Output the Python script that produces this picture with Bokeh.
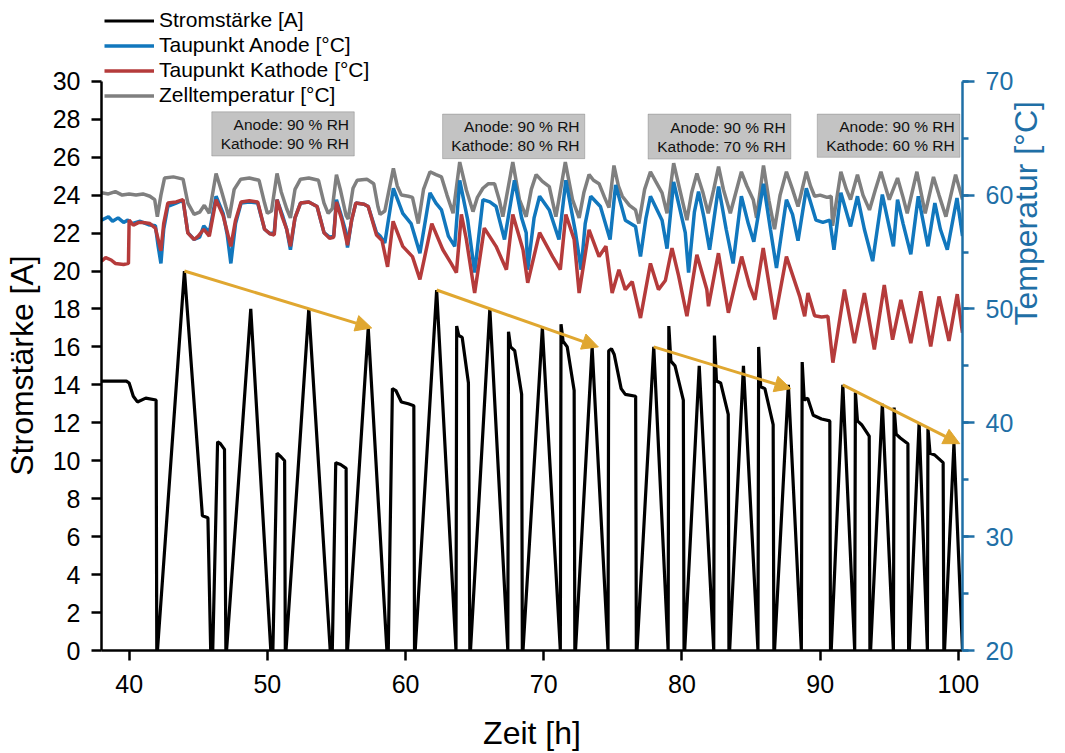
import math
from bokeh.plotting import figure
from bokeh.models import (Range1d, LinearAxis, SingleIntervalTicker, Legend, LegendItem,
                          BoxAnnotation, Label, Arrow, NormalHead)
from bokeh.embed import file_html
from bokeh.resources import INLINE

# ---------------- data ----------------
current_t = [38.0, 39.8, 40.0, 40.3, 40.6, 41.2, 41.95, 42.0,
             42.05, 44.0, 45.3, 45.7, 45.9,
             46.05, 46.4, 46.6, 46.9, 47.0,
             47.05, 48.8, 50.25,
             50.4, 50.7, 51.0, 51.25, 51.3,
             51.35, 53.0, 54.55,
             54.7, 54.95, 55.3, 55.7, 55.75,
             55.8, 57.3, 58.65,
             58.75, 59.05, 59.3, 59.7, 60.2, 60.6, 60.65,
             60.7, 62.25, 63.65,
             63.7, 63.85, 64.1, 64.55, 64.65,
             64.7, 66.1, 67.4,
             67.45, 67.6, 67.9, 68.4, 68.45,
             68.5, 69.9, 71.2,
             71.25, 71.4, 71.7, 72.2, 72.25,
             72.3, 73.5, 74.65,
             74.7, 74.9, 75.1, 75.6, 75.9, 76.65, 76.7,
             76.75, 77.96, 79.0,
             79.05, 79.2, 79.5, 80.1, 80.15,
             80.2, 81.25, 82.3,
             82.35, 82.5, 82.8, 83.35, 83.4,
             83.45, 84.45, 85.5,
             85.55, 85.7, 86.0, 86.6, 86.65,
             86.7, 87.7, 88.64,
             88.7, 88.85, 89.1, 89.5, 90.1, 90.7, 90.75,
             90.8, 91.64, 92.5,
             92.55, 92.7, 93.0, 93.55, 93.6,
             93.65, 94.5, 95.3,
             95.35, 95.5, 95.8, 96.35, 96.4,
             96.45, 97.16, 97.76,
             97.8, 97.95, 98.3, 98.9, 98.95,
             99.0, 99.68, 100.3]
current_a = [14.2, 14.2, 14.1, 13.4, 13.1, 13.3, 13.2, 0,
             0, 20.0, 7.1, 7.0, 0,
             0, 11.0, 10.9, 10.6, 0,
             0, 18.0, 0,
             0, 10.4, 10.2, 10.0, 0,
             0, 18.0, 0,
             0, 9.9, 9.8, 9.6, 0,
             0, 17.0, 0,
             0, 13.8, 13.7, 13.1, 13.0, 12.9, 0,
             0, 19.0, 0,
             17.1, 16.6, 16.5, 14.1, 0,
             0, 18.0, 0,
             16.8, 16.0, 15.8, 13.5, 0,
             0, 17.0, 0,
             17.2, 16.3, 16.0, 13.7, 0,
             0, 16.0, 0,
             15.8, 15.9, 15.6, 13.8, 13.5, 13.4, 0,
             0, 16.0, 0,
             17.1, 15.25, 15.0, 13.2, 0,
             0, 15.0, 0,
             16.6, 14.2, 14.1, 12.45, 0,
             0, 15.0, 0,
             16.0, 13.9, 13.8, 11.9, 0,
             0, 14.0, 0,
             15.2, 13.2, 13.3, 12.4, 12.2, 12.1, 0,
             0, 14.0, 0,
             13.6, 12.1, 11.9, 11.3, 0,
             0, 13.0, 0,
             12.8, 11.4, 11.2, 10.9, 0,
             0, 12.0, 0,
             11.7, 10.4, 10.3, 9.9, 0,
             0, 10.9, 0]

cell_t = [38.0, 38.5, 39.0, 39.5, 40.0, 40.5, 41.0, 41.5, 41.85, 42.04, 42.3, 42.56, 43.2, 43.9,
          44.25, 44.7, 45.1, 45.44, 45.8, 46.29, 46.65, 47.0, 47.24, 47.6, 48.08, 48.7, 49.4,
          49.8, 50.0, 50.3, 50.7, 51.0, 51.4, 51.67, 52.0, 52.4, 53.0, 53.7, 54.1, 54.4, 54.7,
          55.0, 55.3, 55.7, 55.85, 56.2, 56.5, 57.2, 57.7, 58.0, 58.16, 58.5, 59.12, 59.4, 59.7,
          60.2, 60.5, 60.92, 61.3, 61.77, 62.2, 62.6, 63.0, 63.44, 63.92, 64.4, 64.88, 65.2,
          65.6, 66.0, 66.44, 66.8, 67.04, 67.76, 68.24, 68.73, 69.1, 69.45, 69.9, 70.4, 70.88,
          71.56, 72.08, 72.56, 72.9, 73.28, 73.6, 74.0, 74.4, 74.72, 75.08, 75.4, 75.68, 76.2,
          76.64, 76.88, 77.3, 77.72, 78.1, 78.56, 78.92, 79.4, 79.9, 80.36, 80.7, 81.08, 81.5,
          81.9, 82.3, 82.65, 83.0, 83.5, 84.3, 84.7, 85.16, 85.4, 85.9, 86.3, 86.7, 87.1, 87.56,
          88.0, 88.4, 89.0, 89.3, 89.6, 90.0, 90.5, 90.8, 90.9, 91.5, 91.9, 92.2, 92.7, 93.1,
          93.57, 94.0, 94.4, 95.0, 95.6, 96.0, 96.3, 97.0, 97.6, 98.2, 98.6, 99.1, 99.8, 100.3]
cell_temp = [60.2, 60.1, 60.3, 60.0, 60.1, 60.0, 60.1, 59.9, 59.6, 58.1, 60.0, 61.5, 61.6, 61.4,
             59.3, 58.3, 58.5, 59.1, 58.4, 61.9, 60.5, 59.0, 58.0, 60.5, 61.4, 61.5, 61.3,
             59.3, 58.4, 58.6, 61.9, 60.3, 58.8, 58.0, 60.5, 61.4, 61.5, 61.3, 59.3, 58.4, 58.8,
             61.8, 60.4, 58.2, 57.9, 60.6, 61.3, 61.4, 61.0, 59.0, 58.3, 58.6, 62.35, 60.8, 60.0,
             59.9, 59.8, 57.5, 60.5, 62.05, 61.8, 61.6, 60.0, 58.4, 62.9, 60.45, 58.55, 59.8,
             60.6, 61.0, 61.0, 59.5, 58.1, 62.9, 59.6, 58.1, 60.5, 61.8, 61.2, 60.75, 58.1,
             62.9, 59.6, 58.0, 60.2, 61.8, 61.3, 61.0, 59.8, 58.9, 62.6, 60.8, 59.9, 59.1,
             58.7, 57.5, 60.5, 62.05, 61.2, 60.2, 58.4, 62.8, 60.2, 57.8, 60.2, 61.9, 60.3,
             58.4, 60.5, 62.5, 60.5, 58.4, 62.05, 60.8, 59.6, 58.0, 62.6, 59.5, 57.0, 60.0, 62.05,
             60.5, 59.0, 62.05, 60.8, 59.9, 60.0, 59.8, 59.9, 57.3, 62.05, 60.5, 59.6, 61.8, 60.0,
             58.7, 60.5, 62.05, 59.6, 61.5, 59.8, 58.4, 62.05, 58.4, 61.6, 60.0, 58.1, 61.8, 59.6]

anode_t = [38.0, 38.5, 38.8, 39.2, 39.6, 39.9, 40.2, 40.8, 41.4, 41.9, 42.1, 42.3, 42.5, 42.8,
           43.4, 43.9, 44.25, 44.7, 45.1, 45.4, 45.8, 46.29, 46.8, 47.1, 47.36, 47.7, 48.1, 48.7,
           49.3, 49.8, 50.2, 50.5, 50.7, 51.1, 51.4, 51.67, 52.0, 52.4, 53.0, 53.6, 54.1, 54.5,
           54.8, 55.0, 55.4, 55.7, 55.8, 56.1, 56.4, 57.0, 57.3, 57.9, 58.16, 58.5, 59.12, 59.8,
           60.4, 61.04, 61.77, 62.2, 62.6, 63.1, 63.56, 63.92, 64.5, 65.0, 65.6, 66.1, 66.55,
           67.16, 67.88, 68.4, 68.73, 68.84, 69.3, 69.7, 70.4, 71.1, 71.6, 72.3, 72.7, 73.0,
           73.4, 74.1, 74.8, 75.2, 75.9, 76.64, 77.0, 77.4, 77.72, 78.56, 78.92, 79.4, 79.9,
           80.24, 80.48, 80.9, 81.2, 81.6, 82.0, 82.65, 83.2, 83.7, 84.3, 84.8, 85.2, 85.9,
           86.4, 86.84, 87.56, 88.0, 88.4, 89.0, 89.7, 90.2, 90.7, 91.0, 91.5, 92.2, 92.7, 93.2,
           93.8, 94.5, 95.3, 95.6, 96.0, 96.56, 97.1, 97.8, 98.3, 98.7, 99.2, 99.9, 100.3]
anode_temp = [57.8, 58.1, 57.7, 58.0, 57.6, 57.8, 57.5, 57.7, 57.4, 57.3, 55.5, 54.0, 57.0, 59.0,
              59.3, 59.55, 56.7, 56.1, 56.3, 57.3, 56.7, 59.9, 58.4, 56.5, 54.0, 57.5, 59.3, 59.4,
              59.3, 57.0, 56.6, 56.7, 59.6, 58.2, 57.0, 55.2, 58.0, 59.3, 59.4, 59.0, 56.7, 56.3,
              56.4, 59.6, 58.0, 56.7, 55.4, 57.8, 59.3, 59.2, 59.0, 56.7, 56.4, 55.8, 60.6, 58.4,
              57.5, 54.9, 60.2, 59.3, 58.7, 56.4, 55.5, 61.3, 57.8, 53.2, 59.6, 59.4, 59.0,
              56.1, 61.3, 58.0, 56.7, 53.45, 58.0, 59.9, 58.7, 56.1, 61.3, 56.7, 53.45, 57.5,
              59.9, 59.0, 56.1, 60.9, 57.8, 57.25, 54.6, 58.0, 59.9, 57.8, 55.3, 61.15, 58.5,
              56.7, 53.2, 58.5, 60.3, 58.0, 55.2, 60.75, 57.0, 54.0, 59.9, 57.5, 55.9, 61.0,
              57.0, 53.6, 59.6, 58.3, 56.0, 60.6, 57.8, 57.6, 57.8, 55.2, 60.2, 57.25, 59.9, 57.0,
              54.2, 60.05, 55.5, 59.6, 57.5, 54.8, 59.9, 55.5, 59.3, 57.0, 55.2, 59.75, 56.4]

cathode_t = [38.0, 38.3, 38.7, 39.0, 39.6, 39.95, 40.0, 40.3, 40.7, 41.0, 41.5, 41.9, 42.3, 42.5,
             42.8, 43.4, 43.9, 44.25, 44.7, 45.0, 45.4, 45.8, 46.29, 46.8, 47.36, 47.7, 48.1,
             48.7, 49.3, 49.8, 50.2, 50.5, 50.7, 51.1, 51.4, 51.67, 52.0, 52.4, 53.0, 53.6, 54.1,
             54.5, 54.8, 55.0, 55.4, 55.8, 56.1, 56.4, 57.0, 57.3, 57.9, 58.3, 58.7, 59.1, 59.8,
             60.5, 61.04, 61.9, 62.7, 63.3, 63.68, 64.04, 64.4, 65.0, 65.7, 66.55, 67.3, 67.76,
             68.5, 68.84, 69.7, 70.64, 71.2, 71.6, 72.2, 72.56, 73.28, 74.0, 74.5, 74.95, 75.44,
             75.9, 76.4, 77.0, 77.72, 78.3, 78.8, 79.28, 79.76, 80.36, 81.08, 81.8, 81.92, 82.64,
             83.36, 84.32, 84.9, 85.28, 85.88, 86.72, 87.56, 88.52, 88.88, 89.12, 89.6, 90.1,
             90.56, 90.92, 91.76, 92.48, 93.2, 93.92, 94.64, 95.24, 95.84, 96.56, 97.28, 98.0,
             98.6, 99.32, 99.92, 100.3]
cathode_temp = [54.2, 54.5, 54.3, 54.0, 53.9, 54.0, 57.8, 57.35, 57.6, 57.6, 57.5, 57.1, 55.1, 57.5,
                59.3, 59.4, 59.6, 56.66, 56.1, 56.4, 57.0, 56.4, 59.6, 58.2, 55.5, 57.8, 59.4,
                59.5, 59.4, 57.0, 56.6, 56.5, 59.6, 58.0, 57.0, 55.5, 58.0, 59.3, 59.4, 59.0, 56.7,
                56.2, 56.3, 59.4, 57.8, 55.6, 57.8, 59.3, 59.2, 59.0, 56.5, 56.0, 53.7, 57.7, 55.5,
                54.6, 52.6, 57.5, 55.2, 54.0, 53.2, 58.3, 56.1, 51.4, 57.1, 55.5, 53.45, 58.3,
                55.2, 52.3, 56.7, 54.6, 53.45, 58.3, 56.1, 51.4, 56.95, 54.6, 55.5, 51.4, 53.45,
                51.7, 52.4, 49.2, 54.0, 51.7, 52.5, 55.35, 52.9, 49.36, 54.76, 51.7, 50.24, 54.9,
                49.66, 54.6, 52.0, 50.8, 55.35, 49.07, 54.6, 51.1, 49.36, 51.4, 49.4, 49.3,
                49.36, 45.28, 51.7, 47.0, 51.4, 46.45, 52.1, 47.3, 50.8, 47.0, 51.55, 46.7,
                51.1, 47.2, 51.3, 47.9]

# annotation texts (one box per humidity phase)
phase_anode = ["Anode: 90 % RH", "Anode: 90 % RH", "Anode: 90 % RH", "Anode: 90 % RH"]
phase_kathode = ["Kathode: 90 % RH", "Kathode: 80 % RH", "Kathode: 70 % RH", "Kathode: 60 % RH"]
# peak sequence start/end markers for the trend arrows (time, current)
arrow_start = [(44.0, 20.0), (62.25, 19.0), (77.96, 16.0), (91.64, 14.0)]
arrow_end = [(57.55, 17.0), (73.95, 16.0), (87.88, 13.8), (100.1, 10.9)]

# ---------------- styling ----------------
FONT = "Liberation Sans"
BLUE_AX = "#1f6fa6"
C_CUR = "#000000"
C_AN = "#1177bd"
C_KA = "#b53b3b"
C_ZE = "#7f7f7f"
C_ARROW = "#e0a730"
NB = "\u00a0"

# frame spans the full top of the page so the legend sits inside it; axes are bounded
Y_TOP = 30 + 81 / 19.033
T_TOP = 70 + 81 / 11.42

p = figure(width=1065, height=753, output_backend="svg", toolbar_location=None,
           x_range=Range1d(38, 100.3), y_range=Range1d(0, Y_TOP),
           min_border_left=99, min_border_right=100, min_border_top=0, min_border_bottom=101,
           x_axis_label="Zeit [h]", y_axis_label="Stromstärke [A]" + NB * 9)
p.extra_y_ranges = {"temp": Range1d(20, T_TOP)}
p.grid.visible = False
p.outline_line_color = None
p.background_fill_color = "white"
p.border_fill_color = "white"

for ax in (p.xaxis[0], p.yaxis[0]):
    ax.axis_line_width = 2.5
    ax.major_tick_line_width = 2.5
    ax.major_tick_out = 10
    ax.major_tick_in = 0
    ax.minor_tick_line_color = None
    ax.major_label_text_font = FONT
    ax.major_label_text_font_size = "25px"
    ax.major_label_text_color = "black"
    ax.axis_label_text_font = FONT
    ax.axis_label_text_font_size = "32px"
    ax.axis_label_text_font_style = "normal"
    ax.axis_label_text_color = "black"

p.xaxis[0].ticker = SingleIntervalTicker(interval=10, num_minor_ticks=0)
p.xaxis[0].major_label_standoff = 14
p.xaxis[0].axis_label_standoff = 19
p.yaxis[0].ticker = SingleIntervalTicker(interval=2, num_minor_ticks=0)
p.yaxis[0].bounds = (0, 30)
p.yaxis[0].major_label_standoff = 11
p.yaxis[0].axis_label_standoff = 10

rax = LinearAxis(y_range_name="temp", axis_label="Temperatur [°C]",
                 ticker=SingleIntervalTicker(interval=10, num_minor_ticks=2), bounds=(20, 70))
rax.axis_line_color = BLUE_AX
rax.axis_line_width = 2.5
rax.major_tick_line_color = BLUE_AX
rax.major_tick_line_width = 2.5
rax.major_tick_out = 12
rax.major_tick_in = 0
rax.minor_tick_line_color = BLUE_AX
rax.minor_tick_line_width = 2.5
rax.minor_tick_out = 6
rax.minor_tick_in = 0
rax.major_label_text_font = FONT
rax.major_label_text_font_size = "25px"
rax.major_label_text_color = BLUE_AX
rax.major_label_standoff = 11
rax.axis_label_text_font = FONT
rax.axis_label_text_font_size = "32px"
rax.axis_label_text_font_style = "normal"
rax.axis_label_text_color = BLUE_AX
rax.axis_label_standoff = 10
rax.axis_label_orientation = math.pi / 2
p.add_layout(rax, "right")

# ---------------- annotation boxes ----------------
box_lr = [(45.98, 56.29), (62.68, 72.97), (77.55, 87.88), (89.79, 100.11)]
box_tb = [(28.39, 26.06), (28.27, 25.92), (28.27, 25.90), (28.27, 25.99)]
for (l, r), (t, b), a_txt, k_txt in zip(box_lr, box_tb, phase_anode, phase_kathode):
    p.add_layout(BoxAnnotation(left=l, right=r, top=t, bottom=b, fill_color="#c3c3c3",
                               fill_alpha=1.0, line_color="#5a5a5a", line_width=1, level="underlay"))
    xt = r - 0.38
    ym = (t + b) / 2
    p.add_layout(Label(x=xt, y=ym + 0.5, text=a_txt, text_align="right", text_baseline="middle",
                       text_font=FONT, text_font_size="15.5px", text_color="#111111"))
    p.add_layout(Label(x=xt, y=ym - 0.5, text=k_txt, text_align="right", text_baseline="middle",
                       text_font=FONT, text_font_size="15.5px", text_color="#111111"))

# ---------------- lines ----------------
r_ze = p.line(cell_t, cell_temp, y_range_name="temp", line_color=C_ZE, line_width=3.5)
r_an = p.line(anode_t, anode_temp, y_range_name="temp", line_color=C_AN, line_width=3.5)
r_ka = p.line(cathode_t, cathode_temp, y_range_name="temp", line_color=C_KA, line_width=3.5)
r_cu = p.line(current_t, current_a, line_color=C_CUR, line_width=3.2)

for (xs, ys), (xe, ye) in zip(arrow_start, arrow_end):
    p.add_layout(Arrow(end=NormalHead(size=16, fill_color=C_ARROW, line_color=C_ARROW),
                       x_start=xs, y_start=ys, x_end=xe, y_end=ye,
                       line_color=C_ARROW, line_width=3))

legend = Legend(items=[LegendItem(label="Stromstärke [A]", renderers=[r_cu]),
                       LegendItem(label="Taupunkt Anode [°C]", renderers=[r_an]),
                       LegendItem(label="Taupunkt Kathode [°C]", renderers=[r_ka]),
                       LegendItem(label="Zelltemperatur [°C]", renderers=[r_ze])],
                location=(3, 543), orientation="vertical")
legend.background_fill_alpha = 0
legend.border_line_color = None
legend.label_text_font = FONT
legend.label_text_font_size = "21px"
legend.label_text_color = "black"
legend.glyph_width = 50
legend.glyph_height = 21
legend.label_height = 21
legend.label_standoff = 5
legend.spacing = 1
legend.padding = 0
legend.margin = 0
p.add_layout(legend, "center")

open("out.html", "w").write(file_html(p, INLINE))
